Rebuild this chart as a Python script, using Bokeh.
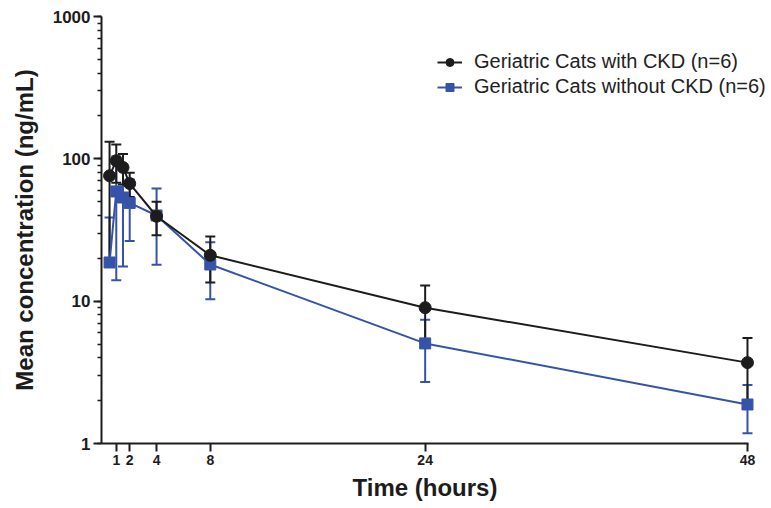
from bokeh.plotting import figure
from bokeh.models import (ColumnDataSource, Whisker, TeeHead, FixedTicker, LogTicker,
                          CustomJSTickFormatter, Legend, LegendItem, Range1d, Title)
from bokeh.embed import file_html
from bokeh.resources import INLINE

times = [0.5, 1, 1.5, 2, 4, 8, 24, 48]
ckd_mean = [76, 97, 87, 67, 39.5, 21, 9.0, 3.7]
ckd_sd = [56, 29, 21, 13, 10.5, 7.5, 3.9, 1.8]
nockd_mean = [18.7, 59, 53.5, 49, 40, 18.1, 5.05, 1.88]
nockd_sd = [20, 45, 36, 22.5, 22, 7.8, 2.35, 0.7]
x_ticks = [1, 2, 4, 8, 24, 48]
labels = ["Geriatric Cats with CKD (n=6)", "Geriatric Cats without CKD (n=6)"]

BLACK = "#1c1c1c"
BLUE = "#3553a8"
FONT = "Liberation Sans"

def src(mean, sd):
    upper = [m + s for m, s in zip(mean, sd)]
    lower = [m - s if m - s > 0 else m for m, s in zip(mean, sd)]
    return ColumnDataSource(dict(t=times, m=mean, upper=upper, lower=lower))

s_ckd = src(ckd_mean, ckd_sd)
s_no = src(nockd_mean, nockd_sd)

p = figure(width=771, height=500, frame_width=668, frame_height=427,
           y_axis_type="log", x_range=Range1d(-0.1, 49.64), y_range=Range1d(1, 1000),
           output_backend="svg", toolbar_location=None,
           min_border_left=101, min_border_right=2, min_border_top=16, min_border_bottom=57)
p.outline_line_color = None
p.xgrid.visible = False
p.ygrid.visible = False

renderers = {}
for s, color, marker, name in [(s_no, BLUE, "square", "no"), (s_ckd, BLACK, "circle", "ckd")]:
    w = Whisker(source=s, base="t", upper="upper", lower="lower", dimension="height",
                line_color=color, line_width=2,
                upper_head=TeeHead(size=10, line_color=color, line_width=2),
                lower_head=TeeHead(size=10, line_color=color, line_width=2))
    p.add_layout(w)
for s, color, marker, name in [(s_no, BLUE, "square", "no"), (s_ckd, BLACK, "circle", "ckd")]:
    l = p.line("t", "m", source=s, line_color=color, line_width=2)
    if marker == "circle":
        m = p.scatter("t", "m", source=s, marker="circle", size=12, fill_color=color, line_color=color)
    else:
        m = p.scatter("t", "m", source=s, marker="square", size=11, fill_color=color, line_color=color)
    renderers[name] = [l, m]

legend = Legend(items=[LegendItem(label=labels[0], renderers=renderers["ckd"]),
                       LegendItem(label=labels[1], renderers=renderers["no"])],
                location=(336, 345), margin=0, padding=0, spacing=2,
                glyph_width=25, glyph_height=20, label_height=20, label_standoff=12,
                label_text_font=FONT, label_text_font_size="20px", label_text_color="#222222",
                border_line_alpha=0, background_fill_alpha=0)
p.add_layout(legend, "center")

p.xaxis.ticker = FixedTicker(ticks=x_ticks, minor_ticks=[])
p.xaxis.bounds = (-0.1, 48.1)
p.yaxis.ticker = LogTicker(num_minor_ticks=10)
p.yaxis.formatter = CustomJSTickFormatter(code="return tick.toString();")

for ax in [p.xaxis[0], p.yaxis[0]]:
    ax.axis_line_width = 2
    ax.axis_line_color = BLACK
    ax.major_tick_line_width = 2
    ax.major_tick_line_color = BLACK
    ax.minor_tick_line_width = 1.5
    ax.minor_tick_line_color = BLACK
    ax.major_tick_in = 0
    ax.major_tick_out = 8
    ax.minor_tick_in = 0
    ax.minor_tick_out = 4
    ax.major_label_text_font = FONT
    ax.major_label_text_font_style = "bold"
    ax.major_label_text_color = BLACK
    ax.axis_label_text_font = FONT
    ax.axis_label_text_font_style = "bold"
    ax.axis_label_text_font_size = "24px"
    ax.axis_label_text_color = BLACK

p.xaxis.major_label_text_font_size = "14px"
p.yaxis.major_label_text_font_size = "17px"
p.yaxis.axis_label = "Mean concentration (ng/mL)"
p.xaxis.major_label_standoff = 3
p.yaxis.major_label_standoff = 3
p.yaxis.axis_label_standoff = 12

xtitle = Title(text="Time (hours)", align="left", offset=251, standoff=8,
               text_font=FONT, text_font_style="bold", text_font_size="24px",
               text_color=BLACK)
p.add_layout(xtitle, "below")

open("out.html", "w").write(file_html(p, INLINE))
